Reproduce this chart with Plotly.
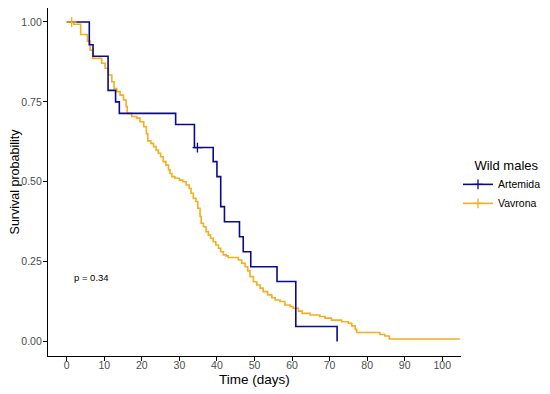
import plotly.graph_objects as go

# ---- data ----
artemida_time = [0, 6, 7, 11, 13, 14, 29, 34, 39, 40, 41, 42, 46, 47, 49, 56, 61, 72]
artemida_surv = [1.0, 0.929, 0.893, 0.786, 0.75, 0.714, 0.679, 0.607, 0.563, 0.516,
                 0.422, 0.375, 0.328, 0.281, 0.234, 0.188, 0.047, 0.0]
artemida_cens_time = [34.8]
artemida_cens_surv = [0.607]

vavrona_time = [0, 1.8, 3.7, 5.5, 6.2, 6.9, 9.3, 10.2, 11.1, 12.0, 12.6, 13.3, 14.2, 15.1,
                15.8, 16.1, 17.3, 18.6, 19.5, 20.5, 21.2, 21.6, 22.4, 23.1, 23.8, 24.4,
                25.0, 25.7, 26.4, 27.1, 27.5, 28.0, 28.8, 30.0, 30.9, 31.8, 32.6, 33.1,
                33.7, 34.4, 34.9, 35.5, 35.8, 36.4, 37.1, 37.7, 38.3, 39.0, 39.7, 40.4,
                41.0, 41.7, 42.4, 43.0, 45.7, 46.6, 47.5, 48.2, 48.8, 49.7, 50.6, 51.5,
                52.3, 53.5, 54.6, 55.5, 56.8, 58.1, 59.5, 60.3, 61.7, 62.7, 64.8, 67.4,
                68.8, 70.5, 73.2, 75.0, 75.9, 76.8, 77.2, 83.4, 84.7, 85.9, 104.7]
vavrona_surv = [1.0, 0.993, 0.961, 0.94, 0.912, 0.886, 0.871, 0.855, 0.834, 0.813, 0.792,
                0.782, 0.771, 0.756, 0.735, 0.714, 0.704, 0.699, 0.688, 0.672, 0.650,
                0.628, 0.620, 0.610, 0.599, 0.589, 0.578, 0.563, 0.552, 0.537, 0.526,
                0.516, 0.511, 0.505, 0.500, 0.490, 0.479, 0.464, 0.448, 0.438, 0.417,
                0.391, 0.370, 0.359, 0.344, 0.333, 0.323, 0.312, 0.302, 0.292, 0.281,
                0.271, 0.268, 0.263, 0.255, 0.245, 0.234, 0.221, 0.203, 0.187, 0.177,
                0.167, 0.156, 0.146, 0.137, 0.130, 0.125, 0.114, 0.109, 0.104, 0.095,
                0.088, 0.083, 0.078, 0.073, 0.067, 0.062, 0.057, 0.049, 0.038, 0.028,
                0.022, 0.017, 0.008, 0.008]
vavrona_cens_time = [1.3]
vavrona_cens_surv = [1.0]

x_ticks = [0, 10, 20, 30, 40, 50, 60, 70, 80, 90, 100]
y_ticks = [0.0, 0.25, 0.5, 0.75, 1.0]
y_tick_labels = ["0.00", "0.25", "0.50", "0.75", "1.00"]

series_names = ["Artemida", "Vavrona"]
colors = ["#0A0A8C", "#F5AE1E"]
legend_title = "Wild males"
p_text = "p = 0.34"
p_pos = (6.6, 0.2)

FONT = "Liberation Sans, Arial, Helvetica, sans-serif"

fig = go.Figure()
curves = [
    (artemida_time, artemida_surv, artemida_cens_time, artemida_cens_surv),
    (vavrona_time, vavrona_surv, vavrona_cens_time, vavrona_cens_surv),
]
for idx in [1, 0]:
    t, s, ct, cs = curves[idx]
    fig.add_trace(go.Scatter(
        x=t, y=s, mode="lines", line=dict(color=colors[idx], width=1.6, shape="hv"),
        showlegend=False, hoverinfo="skip"))
for idx in [0, 1]:
    t, s, ct, cs = curves[idx]
    fig.add_trace(go.Scatter(
        x=ct, y=cs, mode="lines+markers", name=series_names[idx],
        line=dict(color=colors[idx], width=1.6),
        marker=dict(symbol="cross-thin", size=7, line=dict(color=colors[idx], width=1.3)),
        showlegend=True))

fig.add_annotation(x=p_pos[0], y=p_pos[1], text=p_text, showarrow=False,
                   xref="x", yref="y", font=dict(family=FONT, size=9.5, color="black"))

axis_common = dict(
    showgrid=False, zeroline=False, showline=True, linecolor="black", linewidth=1.3,
    ticks="outside", ticklen=4, tickwidth=1, tickcolor="black", automargin=False,
)
fig.update_xaxes(range=[-5, 105], tickvals=x_ticks, ticklabelstandoff=-5,
                 tickfont=dict(family=FONT, size=10.5, color="#4D4D4D"),
                 title=dict(text="Time (days)", font=dict(family=FONT, size=13.5, color="black"),
                            standoff=4),
                 **axis_common)
fig.update_yaxes(range=[-0.0454, 1.0438], tickvals=y_ticks, ticktext=y_tick_labels,
                 ticklabelstandoff=-1,
                 tickfont=dict(family=FONT, size=10.5, color="#4D4D4D"),
                 title=dict(text="Survival probability", font=dict(family=FONT, size=12.5, color="black"),
                            standoff=2),
                 **axis_common)

# page is offset by the browser's default 8px body margin, so the figure is 542x386
fig.update_layout(
    width=542, height=386,
    margin=dict(l=40, r=89, t=0, b=38, autoexpand=False),
    plot_bgcolor="white", paper_bgcolor="white",
    font=dict(family=FONT),
    legend=dict(
        title=dict(text="\u00a0\u00a0\u00a0\u00a0" + legend_title,
                   font=dict(family=FONT, size=13, color="black")),
        font=dict(family=FONT, size=10.5, color="black"),
        x=0.9927, xanchor="left", y=0.49, yanchor="middle",
        itemwidth=30, tracegroupgap=0, bgcolor="rgba(0,0,0,0)",
    ),
)

fig.write_html("out.html")
